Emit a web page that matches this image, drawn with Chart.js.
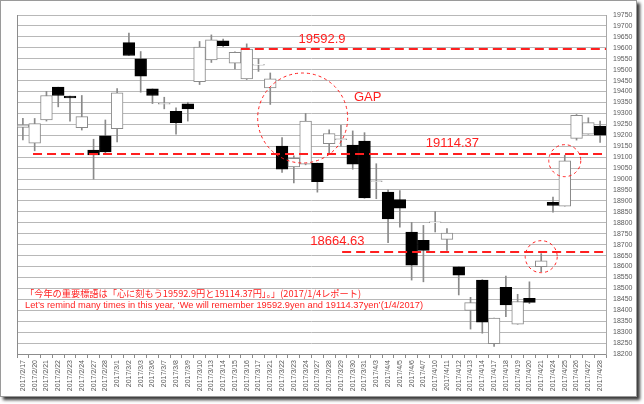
<!DOCTYPE html>
<html>
<head>
<meta charset="utf-8">
<script src="https://cdn.jsdelivr.net/npm/chart.js@4"></script>
<style>
    body { margin: 0; background: #fff; }
    #frame {
        position: absolute; left: 0; top: 0; width: 637px; height: 397px;
        box-sizing: border-box; border: 1px solid #9a9a9a; background: #fff;
        box-shadow: 3px 3px 3px #3a3a3a;
    }
    #wrap { position: absolute; left: 0; top: 0; width: 644px; height: 404px; }
</style>
</head>
<body>
<div id="frame"></div>
<div id="wrap"><canvas id="candle-chart" width="644" height="404"></canvas></div>
<script>
// trading days, Feb 17 - Apr 28 2017
const dates = [
    '2017/2/17', '2017/2/20', '2017/2/21', '2017/2/22', '2017/2/23', '2017/2/24', '2017/2/27', '2017/2/28',
    '2017/3/1', '2017/3/2', '2017/3/3', '2017/3/6', '2017/3/7', '2017/3/8', '2017/3/9', '2017/3/10',
    '2017/3/13', '2017/3/14', '2017/3/15', '2017/3/16', '2017/3/17', '2017/3/21', '2017/3/22', '2017/3/23',
    '2017/3/24', '2017/3/27', '2017/3/28', '2017/3/29', '2017/3/30', '2017/3/31', '2017/4/3', '2017/4/4',
    '2017/4/5', '2017/4/6', '2017/4/7', '2017/4/10', '2017/4/11', '2017/4/12', '2017/4/13', '2017/4/14',
    '2017/4/17', '2017/4/18', '2017/4/19', '2017/4/20', '2017/4/21', '2017/4/24', '2017/4/25', '2017/4/26',
    '2017/4/27', '2017/4/28'
]
const opens = [
    19236, 19164, 19270, 19420, 19379, 19235, 19132, 19197, 19230, 19624,
    19550, 19412, 19342, 19310, 19344, 19445, 19545, 19632, 19530, 19458,
    19521, 19417, 19151, 19055, 19068, 19073, 19162, 19180, 19155, 19174,
    18988, 18940, 18906, 18758, 18720, 18800, 18724, 18599, 18399, 18538,
    18247, 18505, 18336, 18455, 18599, 18894, 18876, 19186, 19205, 19242
]
const highs = [
    19277, 19277, 19401, 19420, 19379, 19382, 19182, 19270, 19414, 19667,
    19583, 19412, 19374, 19326, 19351, 19629, 19659, 19640, 19582, 19618,
    19549, 19485, 19190, 19106, 19300, 19073, 19225, 19245, 19220, 19212,
    19070, 18951, 18947, 18802, 18788, 18851, 18773, 18599, 18459, 18540,
    18364, 18556, 18473, 18530, 18659, 18917, 19109, 19295, 19280, 19265
]
const lows = [
    19179, 19129, 19265, 19330, 19265, 19224, 19000, 19120, 19170, 19565,
    19397, 19345, 19321, 19205, 19265, 19432, 19533, 19605, 19503, 19455,
    19492, 19341, 19030, 18982, 19065, 18940, 19115, 19150, 19045, 18912,
    18910, 18709, 18780, 18538, 18530, 18758, 18674, 18470, 18314, 18295,
    18235, 18371, 18336, 18430, 18576, 18848, 18876, 19178, 19205, 19167
]
const closes = [
    19248, 19253, 19382, 19382, 19371, 19285, 19110, 19124, 19394, 19565,
    19470, 19382, 19346, 19258, 19321, 19603, 19636, 19610, 19579, 19594,
    19525, 19458, 19045, 19095, 19265, 18988, 19208, 19184, 19068, 18914,
    18992, 18818, 18867, 18606, 18674, 18804, 18753, 18561, 18435, 18345,
    18364, 18424, 18440, 18436, 18626, 18879, 19083, 19291, 19258, 19200
]
const yTicks = { min: 18200, max: 19750, step: 50 }

// levels from the 2017/1/4 report
const levels = [19592.9, 19114.37, 18664.63]
const levelLabels = ['19592.9', '19114.37', '18664.63']
const levelStarts = [18.5, 0.86, 27.1]   // category index where each dashed line starts
const noteJa = '「今年の重要標語は「心に刻もう19592.9円と19114.37円」。」(2017/1/4レポート)'
const noteEn = 'Let\u2019s remind many times in this year, \u2018We will remember 19592.9yen and 19114.37yen\u2019(1/4/2017)'

const RED = '#ff1f1f'

const overlayPlugin = {
    id: 'overlay',
    beforeDatasetsDraw(chart) {
        const { ctx, chartArea } = chart
        ctx.save()
        ctx.strokeStyle = '#8c8c8c'
        ctx.lineWidth = 1
        ctx.beginPath()
        ctx.moveTo(Math.round(chartArea.left) + 0.5, chartArea.top)
        ctx.lineTo(Math.round(chartArea.left) + 0.5, chartArea.bottom)
        ctx.stroke()
        ctx.restore()
    },
    afterDatasetsDraw(chart) {
        const { ctx, chartArea } = chart
        const x = chart.scales.x
        const y = chart.scales.y
        ctx.save()

        // red dashed level lines and their labels
        ctx.strokeStyle = RED
        ctx.fillStyle = RED
        ctx.lineWidth = 2
        ctx.setLineDash([9, 5])
        levels.forEach((level, i) => {
            const py = Math.round(y.getPixelForValue(level))
            ctx.beginPath()
            ctx.moveTo(x.getPixelForValue(levelStarts[i]), py)
            ctx.lineTo(chartArea.right, py)
            ctx.stroke()
        })
        ctx.setLineDash([])
        ctx.font = '13px "Liberation Sans", Arial, sans-serif'
        ctx.textBaseline = 'alphabetic'
        ctx.fillText(levelLabels[0], x.getPixelForValue(23.4), y.getPixelForValue(levels[0]) - 6)
        ctx.fillText(levelLabels[1], x.getPixelForValue(34.2), y.getPixelForValue(levels[1]) - 7)
        ctx.fillText(levelLabels[2], x.getPixelForValue(24.4), y.getPixelForValue(levels[2]) - 7)
        ctx.fillText('GAP', x.getPixelForValue(28.1), y.getPixelForValue(19355))

        // dotted circles
        ctx.lineWidth = 1
        ctx.setLineDash([3, 3])
        const circles = [[23.75, 19279, 45], [46, 19084, 16], [44, 18645, 16]]
        circles.forEach(([ci, cv, r]) => {
            ctx.beginPath()
            ctx.arc(x.getPixelForValue(ci), y.getPixelForValue(cv), r, 0, Math.PI * 2)
            ctx.stroke()
        })
        ctx.setLineDash([])

        // report note
        ctx.font = '9.5px "Noto Sans CJK JP", sans-serif'
        ctx.fillText(noteJa, chartArea.left + 8, 297, 336)
        ctx.font = '9.5px "Liberation Sans", Arial, sans-serif'
        ctx.fillText(noteEn, chartArea.left + 8, 308, 398)
        ctx.restore()
    }
}

function createCandleChart() {
    const chart = document.querySelector('#candle-chart')
    const bodies = opens.map((o, i) => [o, closes[i]])
    const wicks = lows.map((l, i) => [l, highs[i]])
    const isUp = opens.map((o, i) => closes[i] >= o)

    new Chart(chart, {
        type: 'bar',
        data: {
            labels: dates,
            datasets: [
                {
                    label: 'wick',
                    data: wicks,
                    backgroundColor: '#8a8a8a',
                    borderWidth: 0,
                    barThickness: 1,
                    grouped: false,
                    order: 2
                },
                {
                    label: 'body',
                    data: bodies,
                    backgroundColor: isUp.map(up => up ? '#ffffff' : '#000000'),
                    borderColor: isUp.map(up => up ? '#8a8a8a' : '#000000'),
                    borderWidth: 1,
                    borderSkipped: false,
                    barPercentage: 1,
                    categoryPercentage: 1,
                    grouped: false,
                    order: 1
                }
            ]
        },
        options: {
            responsive: false,
            animation: false,
            layout: { padding: { left: 17, top: 15, right: 8, bottom: 10 } },
            plugins: { legend: { display: false }, tooltip: { enabled: false } },
            scales: {
                x: {
                    offset: true,
                    grid: { offset: true, drawOnChartArea: false, tickLength: 4, color: '#8c8c8c' },
                    border: { color: '#8c8c8c' },
                    ticks: {
                        autoSkip: false, maxRotation: 90, minRotation: 90, padding: 2,
                        color: '#595959', font: { size: 7, family: '"Liberation Sans", Arial' }
                    },
                    afterFit: scale => { scale.height = 40 }
                },
                y: {
                    position: 'right',
                    min: yTicks.min,
                    max: yTicks.max,
                    grid: { color: '#b8b8b8', drawTicks: false },
                    border: { color: '#a8a8a8' },
                    ticks: {
                        stepSize: yTicks.step, autoSkip: false, padding: 7,
                        color: '#595959', font: { size: 7, family: '"Liberation Sans", Arial' },
                        callback: value => String(value)
                    },
                    afterFit: scale => { scale.width = 30 }
                }
            }
        },
        plugins: [overlayPlugin]
    })
}

createCandleChart()
</script>
</body>
</html>
